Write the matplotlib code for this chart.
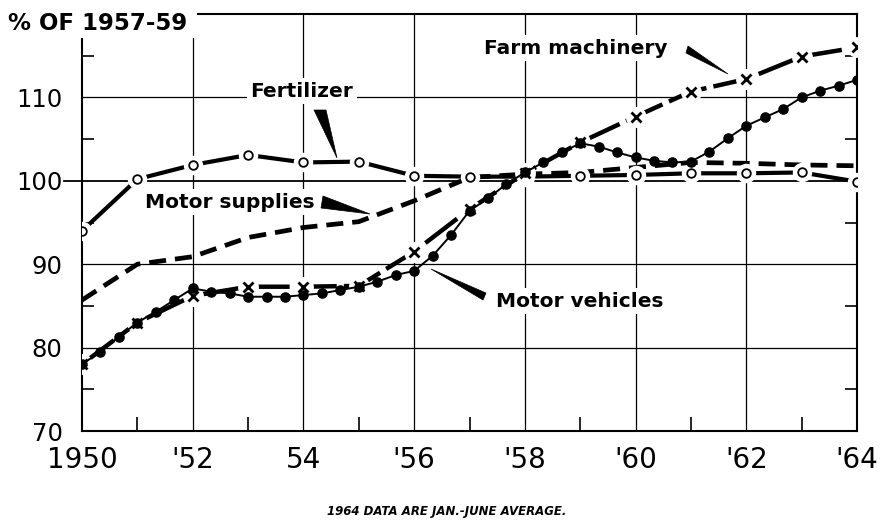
import matplotlib
matplotlib.use('Agg')
import matplotlib.pyplot as plt
import numpy as np
from matplotlib.patches import Polygon, Rectangle
from matplotlib import transforms as mtrans

# ---------------- data ----------------
years = list(range(1950, 1965))
fertilizer = [94.0, 100.2, 101.9, 103.1, 102.2, 102.3, 100.6, 100.5, 100.5,
              100.6, 100.7, 100.9, 100.9, 101.0, 99.9]
farm_machinery = [78.0, 83.0, 86.2, 87.3, 87.3, 87.4, 91.5, 96.6, 100.9,
                  104.6, 107.7, 110.7, 112.2, 114.9, 116.0]
motor_supplies = [85.7, 90.0, 90.9, 93.2, 94.4, 95.1, 97.6, 100.4, 100.8,
                  101.0, 101.6, 102.2, 102.1, 101.9, 101.8]
vehicle_periods = np.linspace(1950, 1964, 43)   # three readings per year
motor_vehicles = [78.0, 79.5, 81.3, 83.0, 84.3, 85.7, 87.1, 86.7, 86.5,
                  86.1, 86.1, 86.1, 86.3, 86.5, 86.9, 87.3, 87.9, 88.7,
                  89.2, 91.0, 93.5, 96.4, 97.9, 99.6, 101.0, 102.2, 103.4,
                  104.5, 104.1, 103.4, 102.8, 102.4, 102.2, 102.3, 103.5,
                  105.1, 106.6, 107.6, 108.6, 110.0, 110.8, 111.4, 112.1]

x_ticks = [1950, 1952, 1954, 1956, 1958, 1960, 1962, 1964]
x_tick_labels = ["1950", "'52", "54", "'56", "'58", "'60", "'62", "'64"]
y_ticks = [70, 80, 90, 100, 110]
y_tick_labels = ["70", "80", "90", "100", "110"]

# ---------------- figure ----------------
W, H = 885, 521
fig = plt.figure(figsize=(W / 100, H / 100), dpi=100)
L, R, B, T = 82, 857, 431, 14
ax = fig.add_axes([L / W, (H - B) / H, (R - L) / W, (B - T) / H])
ax.set_xlim(1950, 1964)
ax.set_ylim(70, 120)

for s in ax.spines.values():
    s.set_linewidth(1.5)
    s.set_color('black')

# grid
for gx in [1952, 1954, 1956, 1958, 1960, 1962]:
    ax.axvline(gx, color='black', lw=0.9, zorder=1)
for gy in [80, 90, 110]:
    ax.axhline(gy, color='black', lw=0.9, zorder=1)
ax.axhline(100, color='black', lw=1.3, zorder=1)
# the 100 line reaches out to its label
trans = mtrans.blended_transform_factory(ax.transAxes, ax.transData)
ax.plot([-18 / (R - L), 0], [100, 100], color='black', lw=1.3,
        transform=trans, clip_on=False)

# ticks
ax.set_xticks(x_ticks)
ax.set_xticklabels(x_tick_labels, fontsize=20)
ax.set_yticks(y_ticks)
ax.set_yticklabels(y_tick_labels, fontsize=17.5)
ax.tick_params(axis='both', which='major', length=0)
ax.tick_params(axis='x', which='major', pad=11)
ax.tick_params(axis='y', which='major', pad=14)
ax.set_xticks([1951, 1953, 1955, 1957, 1959, 1961, 1963], minor=True)
ax.set_yticks([75, 85, 95, 105, 115], minor=True)
ax.tick_params(axis='x', which='minor', direction='in', length=10, width=1.2)
ax.tick_params(axis='y', which='minor', direction='in', length=8.5, width=1.2,
               left=True, right=True)

# ---------------- series ----------------
# motor supplies: short thick dashes
ax.plot(years, motor_supplies, color='black', lw=3.4,
        linestyle=(0, (3.6, 1.9)), solid_capstyle='butt',
        dash_capstyle='butt', zorder=2)

# fertilizer: thick line broken at open circles
ax.plot(years, fertilizer, color='black', lw=3.0, zorder=3,
        solid_capstyle='butt')
ax.plot(years, fertilizer, linestyle='none', marker='o', ms=13,
        mfc='white', mec='white', zorder=3.1)
ax.plot(years, fertilizer, linestyle='none', marker='o', ms=6.2,
        mfc='white', mec='black', mew=1.3, zorder=3.2)

# farm machinery: thick long dashes broken at x marks
ax.plot(years, farm_machinery, color='black', lw=3.2, zorder=4,
        linestyle=(0, (9, 1.6)), dash_capstyle='butt')
ax.plot(years, farm_machinery, linestyle='none', marker='o', ms=14,
        mfc='white', mec='white', zorder=4.1)
ax.plot(years, farm_machinery, linestyle='none', marker='x', ms=6.5,
        mec='black', mew=2.0, zorder=4.2)

# motor vehicles: thin line with filled dots
ax.plot(vehicle_periods, motor_vehicles, color='black', lw=1.4,
        marker='o', ms=6.6, mfc='black', mec='black', zorder=5)

# ---------------- labels ----------------
def px(x, y):
    return (1950 + (x - L) / ((R - L) / 14), 70 + (B - y) / ((B - T) / 50))

lab_kw = dict(fontsize=14.5, fontweight='bold', zorder=6,
              ha='center', va='center',
              bbox=dict(facecolor='white', edgecolor='none', pad=2.5))
ax.text(*px(302, 91), "Fertilizer", **lab_kw)
ax.text(*px(576, 48), "Farm machinery", **lab_kw)
ax.text(*px(230, 202), "Motor supplies", **lab_kw)
ax.text(*px(580, 301), "Motor vehicles", **lab_kw)

def wedge(points):
    ax.add_patch(Polygon([px(*p) for p in points], closed=True,
                         facecolor='black', edgecolor='black', lw=0.5,
                         zorder=6))

wedge([(314, 110), (326, 110), (337, 158)])          # Fertilizer
wedge([(323, 196), (321, 208), (370, 214)])          # Motor supplies
wedge([(688, 46), (686, 53), (728, 74)])             # Farm machinery
wedge([(431, 269), (486, 293), (483, 300)])          # Motor vehicles

# title block (white box hides the top of the frame)
fig.add_artist(Rectangle((0, (H - 38) / H), 197 / W, 38 / H,
                         transform=fig.transFigure, facecolor='white',
                         edgecolor='none', zorder=10))
fig.text(8 / W, (H - 23) / H, "% OF 1957-59", fontsize=16.5,
         fontweight='bold', ha='left', va='center', zorder=11)

fig.text(447 / W, (H - 511) / H, "1964 DATA ARE JAN.-JUNE AVERAGE.",
         fontsize=8.5, fontweight='bold', fontstyle='italic',
         ha='center', va='center')

fig.savefig('out.png', dpi=100)
